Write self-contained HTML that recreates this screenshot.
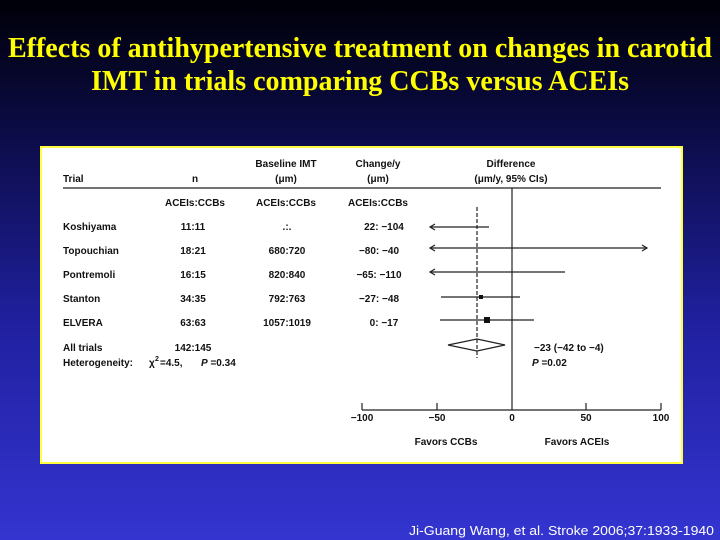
<!DOCTYPE html>
<html><head><meta charset="utf-8"><style>
html,body{margin:0;padding:0;width:720px;height:540px;overflow:hidden}
body{background:linear-gradient(to bottom,#000008 0%,#0c0c48 25%,#2020a0 60%,#3434d0 100%)}
</style></head><body>
<svg width="720" height="540" xmlns="http://www.w3.org/2000/svg" style="position:absolute;left:0;top:0">
<g font-family="Liberation Serif, serif" font-weight="bold" font-size="28" fill="#ffff00" text-anchor="middle">
<text x="360" y="57" textLength="704" lengthAdjust="spacingAndGlyphs">Effects of antihypertensive treatment on changes in carotid</text>
<text x="360" y="90" textLength="538" lengthAdjust="spacingAndGlyphs">IMT in trials comparing CCBs versus ACEIs</text>
</g>
<rect x="41" y="147" width="641" height="316" fill="#fff" stroke="#ffff40" stroke-width="2"/>
<g font-family="Liberation Sans, sans-serif" font-size="10" fill="#111" font-weight="bold">
<text x="63" y="182">Trial</text>
<text x="195" y="182" text-anchor="middle">n</text>
<text x="286" y="167" text-anchor="middle">Baseline IMT</text>
<text x="286" y="182" text-anchor="middle">(μm)</text>
<text x="378" y="167" text-anchor="middle">Change/y</text>
<text x="378" y="182" text-anchor="middle">(μm)</text>
<text x="511" y="167" text-anchor="middle">Difference</text>
<text x="511" y="182" text-anchor="middle">(μm/y, 95% CIs)</text>
<text x="195" y="206" text-anchor="middle">ACEIs:CCBs</text>
<text x="286" y="206" text-anchor="middle">ACEIs:CCBs</text>
<text x="378" y="206" text-anchor="middle">ACEIs:CCBs</text>
<text x="63" y="230">Koshiyama</text><text x="193" y="230" text-anchor="middle">11:11</text><text x="287" y="230" text-anchor="middle">.:.</text><text x="384" y="230" text-anchor="middle">22: −104</text>
<text x="63" y="254">Topouchian</text><text x="193" y="254" text-anchor="middle">18:21</text><text x="287" y="254" text-anchor="middle">680:720</text><text x="379" y="254" text-anchor="middle">−80: −40</text>
<text x="63" y="278">Pontremoli</text><text x="193" y="278" text-anchor="middle">16:15</text><text x="287" y="278" text-anchor="middle">820:840</text><text x="379" y="278" text-anchor="middle">−65: −110</text>
<text x="63" y="302">Stanton</text><text x="193" y="302" text-anchor="middle">34:35</text><text x="287" y="302" text-anchor="middle">792:763</text><text x="379" y="302" text-anchor="middle">−27: −48</text>
<text x="63" y="326">ELVERA</text><text x="193" y="326" text-anchor="middle">63:63</text><text x="287" y="326" text-anchor="middle">1057:1019</text><text x="384" y="326" text-anchor="middle">0: −17</text>
<text x="63" y="351">All trials</text><text x="193" y="351" text-anchor="middle">142:145</text>
<text x="63" y="366">Heterogeneity:</text>
<text x="149" y="366">χ</text><text x="155" y="361" font-size="7">2</text><text x="160" y="366">=4.5,</text>
<text x="201" y="366"><tspan font-style="italic">P</tspan> =0.34</text>
<text x="534" y="351">−23 (−42 to −4)</text>
<text x="532" y="366"><tspan font-style="italic">P</tspan> =0.02</text>
<text x="362" y="421" text-anchor="middle">−100</text><text x="437" y="421" text-anchor="middle">−50</text><text x="512" y="421" text-anchor="middle">0</text><text x="586" y="421" text-anchor="middle">50</text><text x="661" y="421" text-anchor="middle">100</text>
<text x="446" y="445" text-anchor="middle">Favors CCBs</text><text x="577" y="445" text-anchor="middle">Favors ACEIs</text>
</g>
<g stroke="#222" stroke-width="1.2" fill="none">
<line x1="63" y1="188" x2="661" y2="188"/>
<line x1="512" y1="188" x2="512" y2="410"/>
<line x1="362" y1="410" x2="661" y2="410"/>
<line x1="362" y1="403" x2="362" y2="410"/><line x1="437" y1="403" x2="437" y2="410"/><line x1="586" y1="403" x2="586" y2="410"/><line x1="661" y1="403" x2="661" y2="410"/>
<line x1="477" y1="207" x2="477" y2="358" stroke-dasharray="4,2"/>
<line x1="430" y1="227" x2="489" y2="227"/><path d="M435 224 L430 227 L435 230"/>
<line x1="430" y1="248" x2="647" y2="248"/><path d="M435 245 L430 248 L435 251 M642 245 L647 248 L642 251"/>
<line x1="430" y1="272" x2="565" y2="272"/><path d="M435 269 L430 272 L435 275"/>
<line x1="441" y1="297" x2="520" y2="297"/>
<line x1="440" y1="320" x2="534" y2="320"/>
<path d="M448 345 L477 339 L505 345 L477 351 Z"/>
</g>
<rect x="479" y="295" width="4" height="4" fill="#111"/>
<rect x="484" y="317" width="6" height="6" fill="#111"/>
<text x="714" y="535" font-family="Liberation Sans, sans-serif" font-size="13" fill="#fff" text-anchor="end" textLength="305" lengthAdjust="spacingAndGlyphs">Ji-Guang Wang, et al. Stroke 2006;37:1933-1940</text>
</svg>
</body></html>
